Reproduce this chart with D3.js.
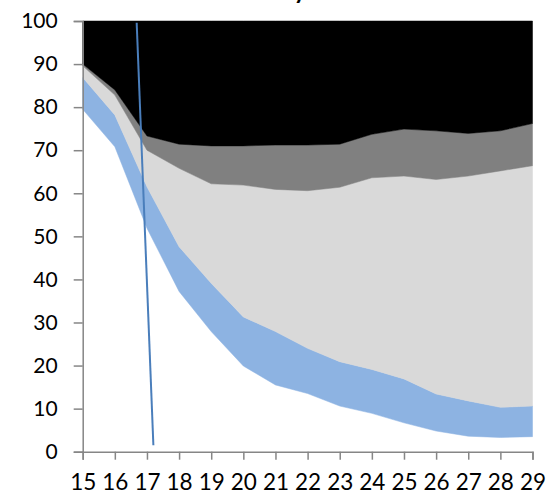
<!DOCTYPE html>
<html>
<head>
<meta charset="utf-8">
<script src="https://cdn.jsdelivr.net/npm/d3@7"></script>
<style>
  html, body { margin: 0; padding: 0; background: #fff; }
  svg { display: block; }
  text { font-family: Lato, "Open Sans", sans-serif; }
</style>
</head>
<body>
<svg id="chart" width="549" height="496"></svg>
<script>
// ---- data ----
const years = [15, 16, 17, 18, 19, 20, 21, 22, 23, 24, 25, 26, 27, 28, 29];
const seriesNames = ["white", "blue", "lightgray", "darkgray", "black"];
const whiteVals     = [79.5, 70.8, 51.9, 37.2, 27.9, 19.9, 15.5, 13.5, 10.6, 8.9, 6.7, 4.8, 3.6, 3.3, 3.5];
const blueVals      = [7.4, 7.4, 9.6, 10.4, 11.2, 11.4, 12.4, 10.5, 10.3, 10.2, 10.2, 8.6, 8.2, 7.0, 7.1];
const lightGrayVals = [2.7, 4.6, 8.5, 18.2, 23.1, 30.6, 33.0, 36.6, 40.5, 44.5, 47.1, 49.8, 52.2, 54.9, 55.8];
const darkGrayVals  = [0.4, 1.2, 3.3, 5.6, 8.8, 9.1, 10.3, 10.6, 10.0, 10.1, 10.9, 11.3, 9.9, 9.3, 9.8];
const blackVals     = [10.0, 16.0, 26.7, 28.6, 29.0, 29.0, 28.8, 28.8, 28.6, 26.3, 25.1, 25.5, 26.1, 25.5, 23.8];
const markerX = [16.68, 17.2];
const markerY = [99.6, 1.5];
const yTicks = [0, 10, 20, 30, 40, 50, 60, 70, 80, 90, 100];
const titleText = "y";

// ---- layout ----
const W = 549, H = 496;
const margin = { top: 21, right: 16.5, bottom: 44.3, left: 82.7 };
const colors = { white: "#ffffff", blue: "#8db3e2", lightgray: "#d9d9d9", darkgray: "#808080", black: "#000000" };

const svg = d3.select("#chart");
const x = d3.scaleLinear().domain([15, 29]).range([margin.left, W - margin.right]);
const y = d3.scaleLinear().domain([0, 100]).range([H - margin.bottom, margin.top]);

const table = years.map((yr, i) => ({
  year: yr,
  white: whiteVals[i], blue: blueVals[i], lightgray: lightGrayVals[i],
  darkgray: darkGrayVals[i], black: blackVals[i]
}));
const stacked = d3.stack().keys(seriesNames)(table);

const area = d3.area()
  .x(d => x(d.data.year))
  .y0(d => y(d[0]))
  .y1(d => y(d[1]));

svg.append("g").selectAll("path")
  .data(stacked)
  .join("path")
  .attr("d", area)
  .attr("fill", d => colors[d.key])
  .attr("stroke", d => colors[d.key])
  .attr("stroke-width", 0.5);

// marker line
svg.append("line")
  .attr("x1", x(markerX[0])).attr("y1", y(markerY[0]))
  .attr("x2", x(markerX[1])).attr("y2", y(markerY[1]))
  .attr("stroke", "#4a7ebb").attr("stroke-width", 2);

// axes
const axisColor = "#868686";
const yAxis = svg.append("g")
  .attr("transform", `translate(${margin.left},0)`)
  .call(d3.axisLeft(y).tickValues(yTicks).tickSize(9).tickPadding(16).tickFormat(d3.format("d")));
const xAxis = svg.append("g")
  .attr("transform", `translate(0,${H - margin.bottom})`)
  .call(d3.axisBottom(x).tickValues(years).tickSize(8).tickPadding(12).tickFormat(d3.format("d")));

[yAxis, xAxis].forEach(g => {
  g.select(".domain").attr("stroke", axisColor).attr("stroke-width", 1.5);
  g.selectAll(".tick line").attr("stroke", axisColor).attr("stroke-width", 1.5);
  g.selectAll(".tick text").attr("fill", "#000")
    .style("font-family", "Lato, 'Open Sans', sans-serif");
});
yAxis.selectAll(".tick text").style("font-size", "21px");
xAxis.selectAll(".tick text").style("font-size", "22.5px").attr("dy", "0.8em");

// title (mostly cut off at the top, as in the reference)
svg.append("text")
  .attr("x", 300).attr("y", -1.5)
  .attr("text-anchor", "middle")
  .style("font-size", "24px").style("font-weight", "bold")
  .attr("fill", "#000")
  .text(titleText);
</script>
</body>
</html>
